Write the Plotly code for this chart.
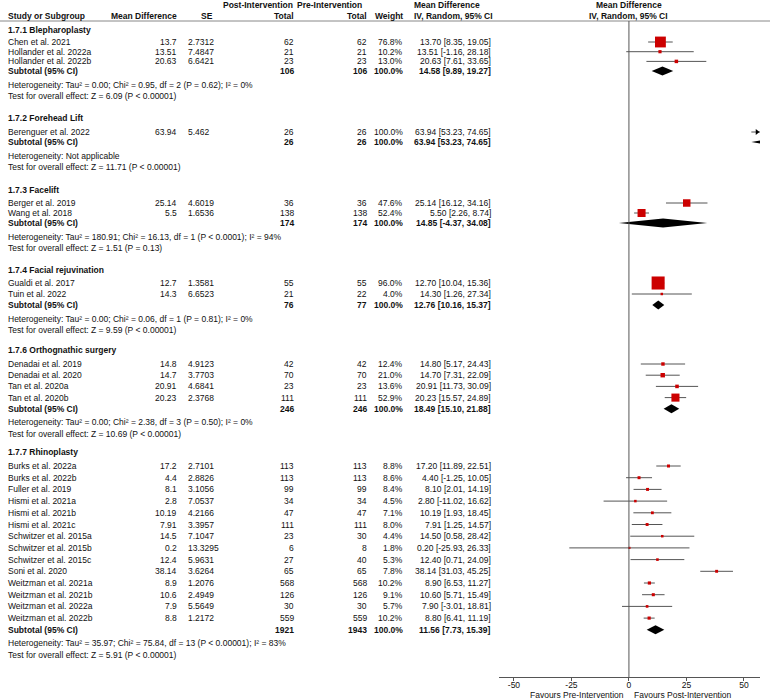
import plotly.graph_objects as go

# ---------------- data ----------------
groups = ["1.7.1 Blepharoplasty", "1.7.2 Forehead Lift", "1.7.3 Facelift",
          "1.7.4 Facial rejuvination", "1.7.6 Orthognathic surgery", "1.7.7 Rhinoplasty"]

study_group = [0, 0, 0, 1, 2, 2, 3, 3, 4, 4, 4, 4,
               5, 5, 5, 5, 5, 5, 5, 5, 5, 5, 5, 5, 5, 5]
studies = ["Chen et al. 2021", "Hollander et al. 2022a", "Hollander et al. 2022b",
           "Berenguer et al. 2022",
           "Berger et al. 2019", "Wang et al. 2018",
           "Gualdi et al. 2017", "Tuin et al. 2022",
           "Denadai et al. 2019", "Denadai et al. 2020", "Tan et al. 2020a", "Tan et al. 2020b",
           "Burks et al. 2022a", "Burks et al. 2022b", "Fuller et al. 2019", "Hismi et al. 2021a",
           "Hismi et al. 2021b", "Hismi et al. 2021c", "Schwitzer et al. 2015a", "Schwitzer et al. 2015b",
           "Schwitzer et al. 2015c", "Soni et al. 2020", "Weitzman et al. 2021a", "Weitzman et al. 2021b",
           "Weitzman et al. 2022a", "Weitzman et al. 2022b"]
mean_diff = [13.7, 13.51, 20.63, 63.94, 25.14, 5.5, 12.7, 14.3, 14.8, 14.7, 20.91, 20.23,
             17.2, 4.4, 8.1, 2.8, 10.19, 7.91, 14.5, 0.2, 12.4, 38.14, 8.9, 10.6, 7.9, 8.8]
se = ["2.7312", "7.4847", "6.6421", "5.462", "4.6019", "1.6536", "1.3581", "6.6523",
      "4.9123", "3.7703", "4.6841", "2.3768", "2.7101", "2.8826", "3.1056", "7.0537",
      "4.2166", "3.3957", "7.1047", "13.3295", "5.9631", "3.6264", "1.2076", "2.4949",
      "5.5649", "1.2172"]
post_total = [62, 21, 23, 26, 36, 138, 55, 21, 42, 70, 23, 111,
              113, 113, 99, 34, 47, 111, 23, 6, 27, 65, 568, 126, 30, 559]
pre_total = [62, 21, 23, 26, 36, 138, 55, 22, 42, 70, 23, 111,
             113, 113, 99, 34, 47, 111, 30, 8, 40, 65, 568, 126, 30, 559]
weight = [76.8, 10.2, 13.0, 100.0, 47.6, 52.4, 96.0, 4.0, 12.4, 21.0, 13.6, 52.9,
          8.8, 8.6, 8.4, 4.5, 7.1, 8.0, 4.4, 1.8, 5.3, 7.8, 10.2, 9.1, 5.7, 10.2]
ci_low = [8.35, -1.16, 7.61, 53.23, 16.12, 2.26, 10.04, 1.26, 5.17, 7.31, 11.73, 15.57,
          11.89, -1.25, 2.01, -11.02, 1.93, 1.25, 0.58, -25.93, 0.71, 31.03, 6.53, 5.71, -3.01, 6.41]
ci_high = [19.05, 28.18, 33.65, 74.65, 34.16, 8.74, 15.36, 27.34, 24.43, 22.09, 30.09, 24.89,
           22.51, 10.05, 14.19, 16.62, 18.45, 14.57, 28.42, 26.33, 24.09, 45.25, 11.27, 15.49, 18.81, 11.19]

sub_post = [106, 26, 174, 76, 246, 1921]
sub_pre = [106, 26, 174, 77, 246, 1943]
sub_md = [14.58, 63.94, 14.85, 12.76, 18.49, 11.56]
sub_low = [9.89, 53.23, -4.37, 10.16, 15.10, 7.73]
sub_high = [19.27, 74.65, 34.08, 15.37, 21.88, 15.39]

het_tau2 = [0.00, None, 180.91, 0.00, 0.00, 35.97]
het_chi2 = [0.95, None, 16.13, 0.06, 2.38, 75.84]
het_df = [2, None, 1, 1, 3, 13]
het_p = ["= 0.62", None, "< 0.0001", "= 0.81", "= 0.50", "< 0.00001"]
het_i2 = [0, None, 94, 0, 0, 83]
z_val = [6.09, 11.71, 1.51, 9.59, 10.69, 5.91]
z_p = ["< 0.00001", "< 0.00001", "= 0.13", "< 0.00001", "< 0.00001", "< 0.00001"]

tick_vals = [-50, -25, 0, 25, 50]
favours = ["Favours Pre-Intervention", "Favours Post-Intervention"]

# ---------------- layout constants ----------------
W, H = 770, 699
AXIS_Y = 677
HEAD_LINE_Y = 21
X_RANGE = [-56.5, 57.0]
PLOT_X0, PLOT_X1 = 499, 760
FONT = "Liberation Sans, Arial, sans-serif"
FS = 8.5
TXT = "#111111"
RED = "#CC0000"
GRAY = "#555555"

# per section: (title y, first study y, row pitch) in pixels
SECTION_LAYOUT = [(30, 42, 9.7), (118, 132, 10.0), (190, 203, 10.0),
                  (270, 283, 11.0), (350, 364, 11.2), (452, 466, 11.7)]

# column positions (px)
COL_NAME = 8
COL_MD = 177
COL_SE = 188
COL_POST = 294
COL_PRE = 367
COL_W = 403
COL_CI = 491

annotations = []


def txt(x, y, s, anchor="left", bold=False, yref="y"):
    annotations.append(dict(
        x=x / W, y=y, xref="paper", yref=yref,
        text=f"<b>{s}</b>" if bold else s,
        showarrow=False, xanchor=anchor, yanchor="middle",
        borderpad=0, borderwidth=0,
        font=dict(size=FS, family=FONT, color=TXT)))


# headers
txt(COL_POST - 1, 5, "Post-Intervention", "right", True)
txt(COL_POST + 3, 5, "Pre-Intervention", "left", True)
txt(414, 5, "Mean Difference", "left", True)
annotations.append(dict(x=0, y=5, xref="x", yref="y", text="<b>Mean Difference</b>",
                        showarrow=False, xanchor="center", yanchor="middle",
                        borderpad=0, borderwidth=0,
                        font=dict(size=FS, family=FONT, color=TXT)))
txt(COL_NAME, 16, "Study or Subgroup", "left", True)
txt(COL_MD, 16, "Mean Difference", "right", True)
txt(213, 16, "SE", "right", True)
txt(COL_POST, 16, "Total", "right", True)
txt(COL_PRE, 16, "Total", "right", True)
txt(COL_W, 16, "Weight", "right", True)
txt(414, 16, "IV, Random, 95% CI", "left", True)
annotations.append(dict(x=0, y=16, xref="x", yref="y", text="<b>IV, Random, 95% CI</b>",
                        showarrow=False, xanchor="center", yanchor="middle",
                        borderpad=0, borderwidth=0,
                        font=dict(size=FS, family=FONT, color=TXT)))

study_y = []
sub_y = []
for g, name in enumerate(groups):
    ty, fy, pitch = SECTION_LAYOUT[g]
    txt(COL_NAME, ty, name, "left", True)
    idx = [i for i, sg in enumerate(study_group) if sg == g]
    for k, i in enumerate(idx):
        y = fy + k * pitch
        study_y.append(y)
        txt(COL_NAME, y, studies[i])
        txt(COL_MD, y, str(mean_diff[i]), "right")
        txt(COL_SE, y, se[i], "left")
        txt(COL_POST, y, str(post_total[i]), "right")
        txt(COL_PRE, y, str(pre_total[i]), "right")
        txt(COL_W, y, f"{weight[i]:.1f}%", "right")
        txt(COL_CI, y, f"{mean_diff[i]:.2f} [{ci_low[i]:.2f}, {ci_high[i]:.2f}]", "right")
    sy = fy + len(idx) * pitch
    sub_y.append(sy)
    txt(COL_NAME, sy, "Subtotal (95% CI)", "left", True)
    txt(COL_POST, sy, str(sub_post[g]), "right", True)
    txt(COL_PRE, sy, str(sub_pre[g]), "right", True)
    txt(COL_W, sy, "100.0%", "right", True)
    txt(COL_CI, sy, f"{sub_md[g]:.2f} [{sub_low[g]:.2f}, {sub_high[g]:.2f}]", "right", True)
    if het_tau2[g] is None:
        het = "Heterogeneity: Not applicable"
    else:
        het = (f"Heterogeneity: Tau² = {het_tau2[g]:.2f}; Chi² = {het_chi2[g]:.2f}, "
               f"df = {het_df[g]} (P {het_p[g]}); I² = {het_i2[g]}%")
    txt(COL_NAME, sy + 13.5, het)
    txt(COL_NAME, sy + 25, f"Test for overall effect: Z = {z_val[g]:.2f} (P {z_p[g]})")

# favours labels
txt(624, (H - 694.5) / H, favours[0], "right", yref="paper")
txt(634, (H - 694.5) / H, favours[1], "left", yref="paper")

fig = go.Figure()

# CI lines
lx, ly = [], []
for i in range(len(studies)):
    lx += [ci_low[i], ci_high[i], None]
    ly += [study_y[i], study_y[i], None]
fig.add_trace(go.Scatter(x=lx, y=ly, mode="lines", line=dict(color=GRAY, width=1),
                         hoverinfo="skip", showlegend=False))

# study squares (size follows weight)
fig.add_trace(go.Scatter(
    x=mean_diff, y=study_y, mode="markers",
    marker=dict(symbol="square", color=RED, opacity=1,
                size=[2 + 0.115 * w for w in weight], line=dict(width=0)),
    showlegend=False, hoverinfo="skip"))

# off-scale arrows
ax_, ay_ = [], []
for i in range(len(studies)):
    if ci_high[i] > X_RANGE[1]:
        ax_.append(X_RANGE[1] - 1.3)
        ay_.append(study_y[i])
fig.add_trace(go.Scatter(x=ax_, y=ay_, mode="markers",
                         marker=dict(symbol="triangle-right", color="black", size=5, opacity=1),
                         showlegend=False, hoverinfo="skip"))

# subtotal diamonds
DH = 4.5
for g in range(len(groups)):
    fig.add_trace(go.Scatter(
        x=[sub_low[g], sub_md[g], sub_high[g], sub_md[g], sub_low[g]],
        y=[sub_y[g], sub_y[g] - DH, sub_y[g], sub_y[g] + DH, sub_y[g]],
        mode="lines", fill="toself", fillcolor="black", line=dict(width=0, color="black"),
        showlegend=False, hoverinfo="skip"))

shapes = [
    dict(type="line", xref="paper", yref="y", x0=0, x1=1, y0=HEAD_LINE_Y, y1=HEAD_LINE_Y,
         line=dict(color="#888888", width=1)),
    dict(type="line", xref="x", yref="y", x0=0, x1=0, y0=HEAD_LINE_Y, y1=AXIS_Y,
         line=dict(color=GRAY, width=1)),
]

fig.update_layout(
    width=W, height=H, autosize=False,
    margin=dict(l=0, r=0, t=0, b=0),
    paper_bgcolor="white", plot_bgcolor="white",
    showlegend=False,
    annotations=annotations, shapes=shapes,
    xaxis=dict(domain=[PLOT_X0 / W, PLOT_X1 / W], range=X_RANGE, showgrid=False,
               zeroline=False, showline=True, linecolor=GRAY, linewidth=1,
               ticks="outside", ticklen=3, tickcolor=GRAY, ticklabelstandoff=-3,
               tickvals=tick_vals, ticktext=[str(v) for v in tick_vals],
               tickfont=dict(size=FS, family=FONT, color=TXT), fixedrange=True),
    yaxis=dict(domain=[(H - AXIS_Y) / H, 1], range=[AXIS_Y, 0], visible=False,
               fixedrange=True),
)

fig.write_html("out.html", config={"displayModeBar": False, "staticPlot": True},
               post_script="document.body.style.margin='0';document.body.style.padding='0';"
                           "document.body.style.overflow='hidden';")
